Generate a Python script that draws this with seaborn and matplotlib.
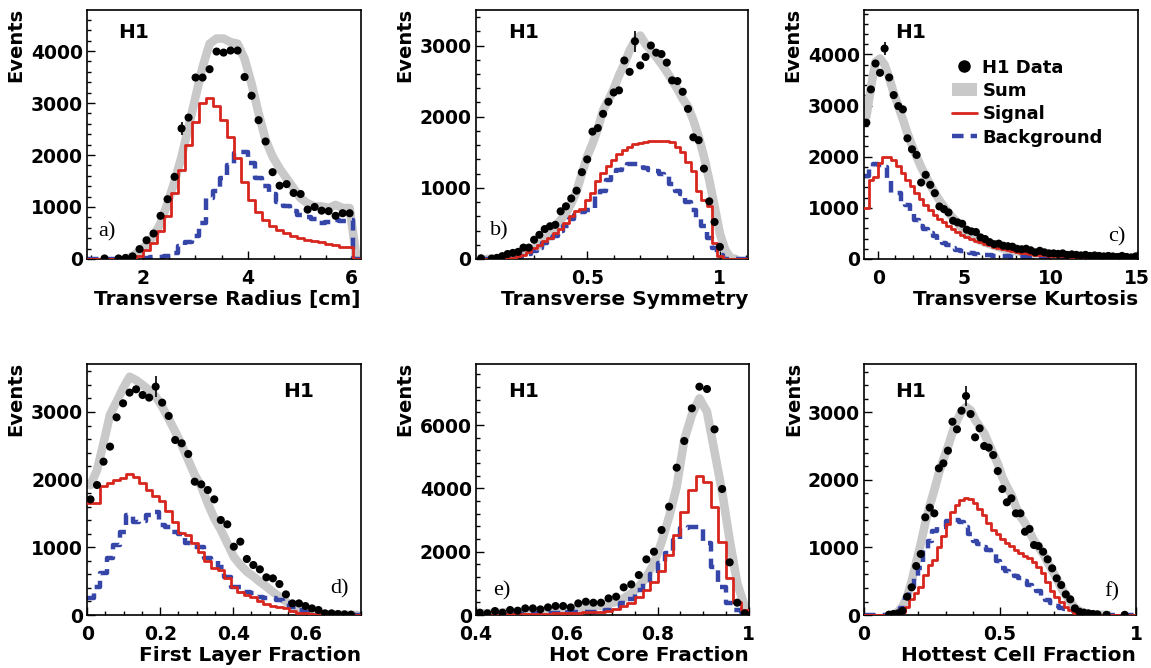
import numpy as np
import pandas as pd
import seaborn as sns
import matplotlib.pyplot as plt
from matplotlib.lines import Line2D
from matplotlib.patches import Patch
from matplotlib.ticker import MultipleLocator, FormatStrFormatter

nan = np.nan

# binning of each panel: (low edge, bin width, number of bins)
a_bins = (0.915, 0.1346, 39)
b_bins = (0.09, 0.02, 51)
c_bins = (-0.82, 0.265, 60)
d_bins = (0.0, 0.75 / 42, 42)
e_bins = (0.4, 0.6 / 36, 36)
f_bins = (0.0, 1.0 / 60, 60)

# a) transverse radius
a_data = [nan, nan, 10, nan, 10, 20, 50, 190, 360, 490, 830, 1150, 1580, 2510, 2720, 3490, 3490, 3650, 3990, 3970,
          4010, 4010, 3500, 3140, 2670, 2260, 1670, 1410, 1440, 1270, 1250, 950, 1000, 930, 920, 830, 880, 880, nan]
a_sum = [nan, nan, nan, nan, nan, 0, 50, 150, 275, 435, 690, 1070, 1490, 1970, 2540, 3120, 3690, 4140, 4240, 4240,
         4170, 4140, 3850, 3370, 2800, 2290, 1970, 1740, 1550, 1360, 1170, 1070, 1010, 1010, 980, 1040, 980, 980, nan]
a_sig = [0, 0, 0, 0, 0, 0, 20, 60, 170, 300, 530, 830, 1270, 1710, 2190, 2640, 3000, 3100, 2940, 2670,
         2350, 1940, 1490, 1140, 910, 750, 630, 560, 500, 450, 400, 370, 340, 320, 290, 260, 240, 230, 0]
a_bkg = [0, 0, 0, 0, 0, 0, 0, 10, 20, 30, 40, 60, 120, 255, 330, 450, 700, 1170, 1300, 1550,
         1800, 2030, 2050, 1840, 1560, 1400, 1250, 1100, 1020, 930, 850, 800, 760, 700, 720, 750, 740, 750, 0]

# b) transverse symmetry
b_data = [10, nan, 5, 15, 40, 70, 85, 100, 160, 160, 270, 340, 420, 460, 480, 670, 740, 850, 960, 1220,
          1400, 1790, 1840, 2040, 2210, 2340, 2370, 2790, 2630, 3060, 2720, 2840, 3000, 2900, 2880, 2760, 2510,
          2500, 2350, 2110, 1710, 1670, 1270, 810, 520, 170, nan, nan, nan, nan, nan]
b_sum = [0, 0, 5, 10, 20, 30, 50, 70, 100, 120, 150, 200, 260, 350, 450, 550, 640, 780, 950, 1200,
         1440, 1620, 1830, 2090, 2230, 2390, 2580, 2740, 2930, 3070, 3140, 3020, 2930, 2840, 2740, 2630, 2510,
         2390, 2250, 2140, 1950, 1720, 1440, 1110, 740, 360, 130, 15, 0, nan, nan]
b_sig = [0, 0, 0, 0, 5, 10, 20, 40, 60, 100, 150, 200, 250, 300, 360, 420, 500, 600, 680, 700,
         830, 930, 1090, 1210, 1300, 1390, 1470, 1530, 1580, 1615, 1630, 1650, 1660, 1665, 1660, 1660, 1650,
         1580, 1510, 1370, 1230, 950, 830, 740, 220, 40, 0, 0, 0, 0, 0]
b_bkg = [0, 0, 0, 0, 0, 5, 10, 20, 40, 70, 110, 160, 220, 300, 330, 400, 460, 560, 620, 660,
         690, 700, 890, 950, 1110, 1200, 1250, 1300, 1340, 1340, 1320, 1280, 1250, 1230, 1200, 1160, 1050,
         960, 920, 800, 690, 560, 460, 300, 150, 50, 0, 0, 0, 0, 0]

# c) transverse kurtosis
c_data = [2666, 3316, 3823, 3641, 4115, 3550, 3205, 2990, 2926, 2360, 2145, 2035, 1495, 1645, 1450, 1287,
          1027, 975, 910, 748, 715, 689, 572, 540, 527, 423, 390, 330, 290, 300, 260, 250, 240, 200, 190, 200,
          170, 130, 160, 130, 110, 110, 100, 110, 80, 90, 80, 70, 80, 60, 70, 60, 50, 60, 50, 40, 60, 40, 30, 50]
c_sum = [2780, 3350, 3850, 3920, 3800, 3550, 3240, 2990, 2730, 2460, 2220, 2000, 1800, 1620, 1450, 1290,
         1150, 1020, 900, 800, 700, 600, 530, 460, 400, 360, 320, 290, 260, 230, 205, 180, 160, 145, 130, 118,
         105, 97, 90, 83, 77, 71, 65, 61, 57, 53, 50, 47, 44, 42, 40, 38, 36, 34, 32, 30, 28, 26, 24, 22]
c_sig = [1000, 1550, 1610, 1885, 2000, 2000, 1940, 1810, 1680, 1550, 1420, 1290, 1170, 1060, 960, 865,
         780, 715, 650, 585, 527, 475, 430, 390, 358, 325, 293, 267, 240, 215, 195, 175, 156, 137, 124, 110,
         97, 85, 78, 72, 66, 62, 58, 54, 50, 47, 44, 41, 38, 36, 34, 32, 30, 28, 26, 25, 24, 23, 22, 20]
c_bkg = [1625, 1800, 1850, 1840, 1800, 1550, 1300, 1300, 1090, 1050, 900, 770, 640, 585, 507, 450,
         345, 320, 280, 220, 170, 150, 130, 115, 100, 85, 80, 70, 65, 60, 55, 52, 48, 45, 42, 40,
         38, 36, 34, 32, 30, 29, 28, 27, 26, 25, 24, 23, 22, 21, 20, 19, 18, 17, 16, 15, 14, 13, 12, 10]

# d) first layer fraction
d_data = [1709, 1921, 2266, 2488, 2921, 3128, 3286, 3335, 3251, 3212, 3374, 3138, 2941, 2586, 2537, 2379,
          1970, 1931, 1847, 1709, 1404, 1340, 1010, 1084, 828, 739, 675, 557, 542, 458, 305, 172, 172, 133,
          98, 74, 25, 25, 15, 10, 5, nan]
d_sum = [1920, 2140, 2540, 2960, 3150, 3350, 3520, 3470, 3400, 3320, 3230, 3080, 2900, 2710, 2510, 2290,
         2070, 1900, 1650, 1430, 1260, 1060, 860, 740, 640, 570, 490, 420, 340, 270, 200, 120, 60, 35,
         25, 15, 10, 8, 5, 3, 2, 0]
d_sig = [1650, 1660, 1900, 1950, 2000, 2030, 2080, 2040, 1950, 1850, 1760, 1680, 1530, 1380, 1210, 1180,
         1060, 935, 800, 700, 665, 540, 420, 345, 295, 270, 210, 163, 133, 113, 98, 64, 34, 25,
         15, 10, 8, 5, 3, 2, 1, 0]
d_bkg = [246, 420, 615, 837, 1034, 1230, 1478, 1380, 1394, 1478, 1527, 1330, 1305, 1230, 1197, 1060,
         1010, 1000, 837, 813, 704, 567, 420, 409, 345, 320, 270, 246, 246, 222, 172, 123, 74, 49,
         25, 15, 10, 8, 5, 3, 2, 0]

# e) hot core fraction
e_data = [74, 53, 126, 74, 158, 137, 210, 210, 179, 242, 284, 284, 242, 368, 421, 389, 389, 526, 579, 874,
          968, 1263, 1758, 2000, 2684, 3421, 4653, 5495, 6526, 7210, 7137, 5863, 3979, 1663, 389, 53]
e_sum = [45, 55, 65, 75, 85, 95, 105, 115, 125, 140, 150, 160, 180, 200, 230, 260, 300, 350, 420, 530,
         680, 890, 1210, 1630, 2300, 3100, 4050, 5530, 6320, 6840, 6420, 5160, 3890, 2370, 1000, 260]
e_sig = [5, 10, 10, 15, 20, 25, 30, 35, 40, 45, 50, 55, 60, 70, 80, 90, 100, 120, 180, 280,
         370, 560, 790, 1050, 1400, 1900, 2530, 3260, 3950, 4390, 4210, 3420, 2316, 1160, 421, 158]
e_bkg = [10, 15, 20, 25, 30, 35, 40, 45, 50, 55, 60, 70, 80, 90, 100, 110, 130, 170, 230, 370,
         520, 790, 1000, 1300, 1630, 1950, 2370, 2740, 2790, 2790, 2260, 1530, 895, 370, 160, 100]

# f) hottest cell fraction
f_data = [nan, nan, nan, nan, nan, 5, 15, 25, 64, 271, 410, 725, 903, 1446, 1589, 1505, 2171, 2245, 2432, 2861,
          2748, 3024, 3241, 2975, 2630, 2763, 2501, 2477, 2368, 2131, 1865, 1668, 1727, 1505, 1505, 1233, 1273,
          1036, 1021, 937, 824, 691, 543, 444, 306, 232, 99, 49, 35, 25, 15, 10, nan, 3, nan, nan, nan, 3, nan, nan]
f_sum = [0, 0, 0, 0, 0, 0, 10, 50, 130, 270, 500, 780, 1050, 1360, 1620, 1850, 2100, 2300, 2490, 2700,
         2880, 3010, 3080, 3030, 2890, 2790, 2690, 2540, 2390, 2240, 2040, 1900, 1780, 1600, 1460, 1360, 1230,
         1100, 1000, 910, 780, 660, 540, 400, 300, 200, 110, 60, 35, 15, 8, 4, 2, 0, 0, 0, 0, 0, 0, 0]
f_sig = [0, 0, 0, 0, 0, 0, 0, 10, 50, 123, 232, 320, 420, 592, 740, 814, 1011, 1170, 1347, 1530,
         1628, 1702, 1727, 1712, 1653, 1564, 1480, 1367, 1258, 1199, 1120, 1061, 1021, 962, 913, 873, 839,
         789, 705, 617, 493, 360, 271, 197, 123, 74, 35, 15, 8, 0, 0, 0, 0, 0, 0, 0, 0, 0, 0, 0]
f_bkg = [0, 0, 0, 0, 0, 0, 0, 20, 100, 271, 420, 580, 700, 960, 1100, 1250, 1300, 1310, 1390, 1406,
         1400, 1380, 1300, 1200, 1100, 1050, 1000, 960, 900, 800, 690, 650, 617, 580, 543, 500, 444,
         400, 350, 271, 220, 173, 130, 99, 85, 74, 60, 50, 35, 25, 15, 10, 5, 0, 0, 0, 0, 0, 0, 0]

# single visible error bar per panel: (bin index, error)
a_err = (13, 130)
b_err = (29, 150)
c_err = (4, 130)
d_err = (10, 160)
f_err = (22, 150)

x_titles = ['Transverse Radius [cm]', 'Transverse Symmetry', 'Transverse Kurtosis',
            'First Layer Fraction', 'Hot Core Fraction', 'Hottest Cell Fraction']
letters = ['a)', 'b)', 'c)', 'd)', 'e)', 'f)']

RED = '#d7261e'
BLUE = '#3546a8'
GREY = '#c9c9c9'
DASH = (0, (2.6, 1.6))

sns.set_theme(style='ticks')
plt.rcParams['font.family'] = ['DejaVu Sans']
plt.rcParams['font.weight'] = 'bold'
plt.rcParams['axes.labelweight'] = 'bold'
plt.rcParams['axes.linewidth'] = 1.2
for key in ['text.color', 'axes.labelcolor', 'xtick.color', 'ytick.color', 'axes.edgecolor']:
    plt.rcParams[key] = 'black'

panels = [
    dict(rect=[0.0756, 0.6123, 0.2380, 0.3728], bins=a_bins, data=a_data, tot=a_sum, sig=a_sig, bkg=a_bkg,
         err=a_err, xlim=(0.915, 6.18), ymax=4790, xmaj=2, xmin=0.5, ymaj=1000, ymin=200,
         h1=(0.113, 0.908), let=(0.04, 0.11, 'left')),
    dict(rect=[0.4133, 0.6123, 0.2368, 0.3728], bins=b_bins, data=b_data, tot=b_sum, sig=b_sig, bkg=b_bkg,
         err=b_err, xlim=(0.08, 1.107), ymax=3500, xmaj=0.5, xmin=0.1, ymaj=1000, ymin=200,
         h1=(0.118, 0.909), let=(0.052, 0.114, 'left')),
    dict(rect=[0.7507, 0.6123, 0.2380, 0.3728], bins=c_bins, data=c_data, tot=c_sum, sig=c_sig, bkg=c_bkg,
         err=c_err, xlim=(-0.82, 15.08), ymax=4870, xmaj=5, xmin=1, ymaj=1000, ymin=200,
         h1=(0.113, 0.909), let=(0.953, 0.088, 'right')),
    dict(rect=[0.0758, 0.0793, 0.2377, 0.3753], bins=d_bins, data=d_data, tot=d_sum, sig=d_sig, bkg=d_bkg,
         err=d_err, xlim=(0.0, 0.75), ymax=3704, xmaj=0.2, xmin=0.05, ymaj=1000, ymin=200,
         h1=(0.716, 0.891), let=(0.89, 0.106, 'left')),
    dict(rect=[0.4136, 0.0793, 0.2368, 0.3753], bins=e_bins, data=e_data, tot=e_sum, sig=e_sig, bkg=e_bkg,
         err=None, xlim=(0.4, 1.0), ymax=7916, xmaj=0.2, xmin=0.05, ymaj=2000, ymin=400,
         h1=(0.118, 0.891), let=(0.062, 0.096, 'left')),
    dict(rect=[0.7507, 0.0793, 0.2363, 0.3753], bins=f_bins, data=f_data, tot=f_sum, sig=f_sig, bkg=f_bkg,
         err=f_err, xlim=(0.0, 1.0), ymax=3710, xmaj=0.5, xmin=0.1, ymaj=1000, ymin=200,
         h1=(0.114, 0.891), let=(0.884, 0.094, 'left')),
]


def trim_sum(total):
    # keep only the non-empty range of the sum, plus one empty bin on each side
    total = np.asarray(total, dtype=float)
    nz = np.nonzero(np.nan_to_num(total))[0]
    out = np.full_like(total, nan)
    lo = max(nz[0] - 1, 0)
    hi = min(nz[-1] + 1, len(total) - 1)
    out[lo:hi + 1] = np.nan_to_num(total[lo:hi + 1])
    return out


fig = plt.figure(figsize=(11.51, 6.68), dpi=100)

for k, p in enumerate(panels):
    ax = fig.add_axes(p['rect'])
    lo, w, n = p['bins']
    edges = list(lo + w * np.arange(n + 1))
    centers = np.array(edges[:-1]) + w / 2
    df = pd.DataFrame({'x': centers, 'data': p['data'], 'sum': trim_sum(p['tot']),
                       'sig': p['sig'], 'bkg': p['bkg']})

    sns.lineplot(data=df.dropna(subset=['sum']), x='x', y='sum', color=GREY, linewidth=6.2,
                 errorbar=None, ax=ax, zorder=1, solid_joinstyle='round')
    sns.histplot(x=df['x'], weights=df['bkg'], bins=edges, element='step', fill=False,
                 color=BLUE, linewidth=3.2, linestyle=DASH, ax=ax, zorder=2)
    sns.histplot(x=df['x'], weights=df['sig'], bins=edges, element='step', fill=False,
                 color=RED, linewidth=2.0, ax=ax, zorder=3)
    if p['err'] is not None:
        i, e = p['err']
        ax.errorbar(df['x'][i], df['data'][i], yerr=e, fmt='none', ecolor='black', elinewidth=1.2, zorder=4)
    sns.scatterplot(data=df.dropna(subset=['data']), x='x', y='data', color='black', s=34,
                    edgecolor='none', ax=ax, zorder=5, legend=False)

    ax.set_xlim(*p['xlim'])
    ax.set_ylim(0, p['ymax'])
    ax.xaxis.set_major_locator(MultipleLocator(p['xmaj']))
    ax.xaxis.set_minor_locator(MultipleLocator(p['xmin']))
    ax.yaxis.set_major_locator(MultipleLocator(p['ymaj']))
    ax.yaxis.set_minor_locator(MultipleLocator(p['ymin']))
    ax.xaxis.set_major_formatter(FormatStrFormatter('%g'))
    ax.yaxis.set_major_formatter(FormatStrFormatter('%g'))
    ax.tick_params(which='both', direction='in', top=False, right=False, width=1.0, colors='black',
                   labelsize=13.5)
    ax.tick_params(which='major', length=5.5)
    ax.tick_params(which='minor', length=3)
    ax.tick_params(axis='x', pad=7)
    ax.tick_params(axis='y', pad=3)
    for s in ax.spines.values():
        s.set_visible(True)
        s.set_color('black')

    ax.set_xlabel(x_titles[k], fontsize=14.5, fontweight='bold', loc='right')
    ax.set_ylabel('Events', fontsize=14, fontweight='bold', loc='top')
    ax.xaxis.set_label_coords(1.0, -0.125)
    ax.yaxis.set_label_coords(-0.225, 1.01)

    ax.text(p['h1'][0], p['h1'][1], 'H1', transform=ax.transAxes, fontsize=14.5,
            fontweight='bold', va='center', ha='left')
    ax.text(p['let'][0], p['let'][1], letters[k], transform=ax.transAxes, family='Liberation Serif',
            fontweight='normal', fontsize=16, va='center', ha=p['let'][2])

    if k == 2:
        handles = [Line2D([], [], marker='o', color='black', ls='none', markersize=8),
                   Patch(facecolor=GREY, edgecolor='none'),
                   Line2D([], [], color=RED, lw=2),
                   Line2D([], [], color=BLUE, lw=3.2, ls=DASH)]
        ax.legend(handles, ['H1 Data', 'Sum', 'Signal', 'Background'], loc='upper left',
                  bbox_to_anchor=(0.32, 0.805), frameon=False, borderpad=0, borderaxespad=0,
                  labelspacing=0.3, handlelength=1.4, handletextpad=0.3,
                  prop={'weight': 'bold', 'size': 13})

fig.savefig('out.png', dpi=100)
